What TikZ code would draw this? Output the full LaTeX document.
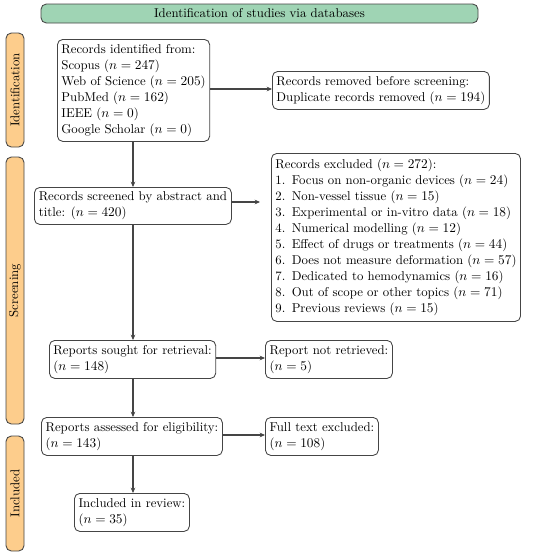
\documentclass[tikz,border=0pt]{standalone}
\usetikzlibrary{arrows.meta}
\definecolor{bannergreen}{HTML}{9FD4B4}
\definecolor{sideorange}{HTML}{FDCD8C}
\definecolor{edgegray}{HTML}{454545}
\newcommand{\diagfont}{\fontsize{9.6}{12}\selectfont}
\begin{document}
\begin{tikzpicture}[x=0.75pt,y=-0.75pt,
  every node/.style={font=\diagfont},
  box/.style={draw=edgegray,line width=0.65pt,rounded corners=4pt,inner sep=3pt,anchor=north west,align=left},
  side/.style={draw=edgegray,line width=0.65pt,fill=sideorange,rounded corners=4pt},
  flow/.style={draw=edgegray,line width=0.9pt,-{Stealth[length=4pt,width=3.5pt]}}]
\useasboundingbox (0,0) rectangle (550,554);
% banner
\node[draw=edgegray,line width=0.65pt,fill=bannergreen,rounded corners=4pt,minimum width=437*0.75pt,minimum height=19*0.75pt,inner sep=0pt] (banner) at (259.5,13.5) {Identification of studies via databases};
% side bars
\node[side,minimum width=18*0.75pt,minimum height=114*0.75pt,inner sep=0pt] (sid) at (15,90) {};
\node[rotate=90] (sidl) at (sid.center) {Identification};
\node[side,minimum width=18*0.75pt,minimum height=267*0.75pt,inner sep=0pt] (sscr) at (15,290.5) {};
\node[rotate=90] (sscrl) at (sscr.center) {Screening};
\node[side,minimum width=18*0.75pt,minimum height=115*0.75pt,inner sep=0pt] (sinc) at (15,493.5) {};
\node[rotate=90] (sincl) at (sinc.center) {Included};
% boxes
\node[box,minimum width=150*0.75pt,minimum height=102*0.75pt] (b1) at (57,39) {Records identified from:\\Scopus ($n=247$)\\Web of Science ($n=205$)\\PubMed ($n=162$)\\IEEE ($n=0$)\\Google Scholar ($n=0$)};
\node[box,minimum width=213*0.75pt,minimum height=38*0.75pt] (b2) at (272,71) {Records removed before screening:\\Duplicate records removed ($n=194$)};
\node[box,minimum width=197*0.75pt,minimum height=37*0.75pt] (b3) at (34,187) {Records screened by abstract and\\title: ($n=420$)};
\node[box,minimum width=247*0.75pt,minimum height=168*0.75pt] (b4) at (271,153) {Records excluded ($n=272$):\\
1.\ \,Focus on non-organic devices ($n=24$)\\
2.\ \,Non-vessel tissue ($n=15$)\\
3.\ \,Experimental or in-vitro data ($n=18$)\\
4.\ \,Numerical modelling ($n=12$)\\
5.\ \,Effect of drugs or treatments ($n=44$)\\
6.\ \,Does not measure deformation ($n=57$)\\
7.\ \,Dedicated to hemodynamics ($n=16$)\\
8.\ \,Out of scope or other topics ($n=71$)\\
9.\ \,Previous reviews ($n=15$)};
\node[box,minimum width=166*0.75pt,minimum height=38*0.75pt] (b5) at (49,340) {Reports sought for retrieval:\\($n=148$)};
\node[box,minimum width=127*0.75pt,minimum height=38*0.75pt] (b6) at (265,340) {Report not retrieved:\\($n=5$)};
\node[box,minimum width=181*0.75pt,minimum height=38*0.75pt] (b7) at (41,417) {Reports assessed for eligibility:\\($n=143$)};
\node[box,minimum width=113*0.75pt,minimum height=38*0.75pt] (b8) at (265,417) {Full text excluded:\\($n=108$)};
\node[box,minimum width=115*0.75pt,minimum height=38*0.75pt] (b9) at (74,493) {Included in review:\\($n=35$)};
% connectors
\coordinate (c1) at (133,141);
\draw[flow] (b1.east |- 0,89) -- (b2.west |- 0,89);
\draw[flow] (c1) -- (c1 |- b3.north);
\draw[flow,shorten >=11*0.75pt] (b3.east |- 0,202) -- (b4.west |- 0,202);
\draw[flow] (b3.south -| c1) -- (b5.north -| c1);
\draw[flow] (b5.east |- 0,358) -- (b6.west |- 0,358);
\draw[flow] (b5.south -| c1) -- (b7.north -| c1);
\draw[flow] (b7.east |- 0,435) -- (b8.west |- 0,435);
\draw[flow] (b7.south -| c1) -- (b9.north -| c1);
\end{tikzpicture}
\end{document}
